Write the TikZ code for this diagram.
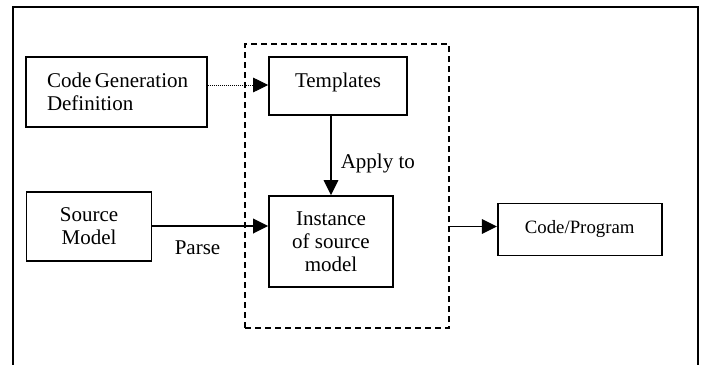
\documentclass[tikz,border=0pt]{standalone}
\usepackage{fontspec}
\setmainfont{Liberation Serif}
\usetikzlibrary{arrows.meta}
\begin{document}
\begin{tikzpicture}[x=1pt,y=-1pt,
  box/.style={draw, line width=1.6pt, inner sep=0pt, align=center,
    font=\fontsize{21}{23}\selectfont},
  grpbox/.style={draw, line width=1.5pt, dash pattern=on 6pt off 4pt, inner sep=0pt},
  arr/.style={line width=1.5pt, -{Triangle[length=15pt,width=14.5pt]}},
  lbl/.style={inner sep=0pt, font=\fontsize{21}{23}\selectfont}]
\useasboundingbox (0,0) rectangle (701,364);
% outer frame (bottom edge outside the picture)
\draw[line width=2pt] (13.3,366) -- (13.3,7.3) -- (698.3,7.3) -- (698.3,366);
% dashed group
\node[grpbox, minimum width=204pt, minimum height=284pt] (grp) at (347,186) {};
% boxes
\node[box, minimum width=181pt, minimum height=70pt] (cgd) at (116.5,92)
  {\makebox[139pt][s]{Code Generation}\\\makebox[139pt][l]{Definition}};
\node[box, minimum width=138pt, minimum height=58pt, text height=15pt, text depth=12pt] (tmpl) at (338,86) {Templates};
\node[box, minimum width=125pt, minimum height=69pt] (src) at (89,226.5) {Source\\Model};
\node[box, minimum width=124pt, minimum height=91pt] (inst) at (331,241.5) {Instance\\of source\\model};
\node[box, minimum width=164pt, minimum height=52pt, font=\fontsize{18.8}{21}\selectfont] (out) at (579.7,229.3) {Code/Program};
% connectors
\draw[arr, line width=1pt, dash pattern=on 1pt off 1pt] (cgd.east |- 0,85) -- (tmpl.west |- 0,85);
\draw[arr] (tmpl.south -| inst.north) -- (inst.north)
  node[lbl, pos=0.6, anchor=west, xshift=9pt] (applylbl) {Apply to};
\draw[arr, line width=2pt] (src.east |- 0,226) -- (inst.west |- 0,226)
  node[lbl, pos=0.39, yshift=-22pt] (parselbl) {Parse};
\draw[arr] (grp.east |- 0,226.5) -- (out.west |- 0,226.5);
\end{tikzpicture}
\end{document}
